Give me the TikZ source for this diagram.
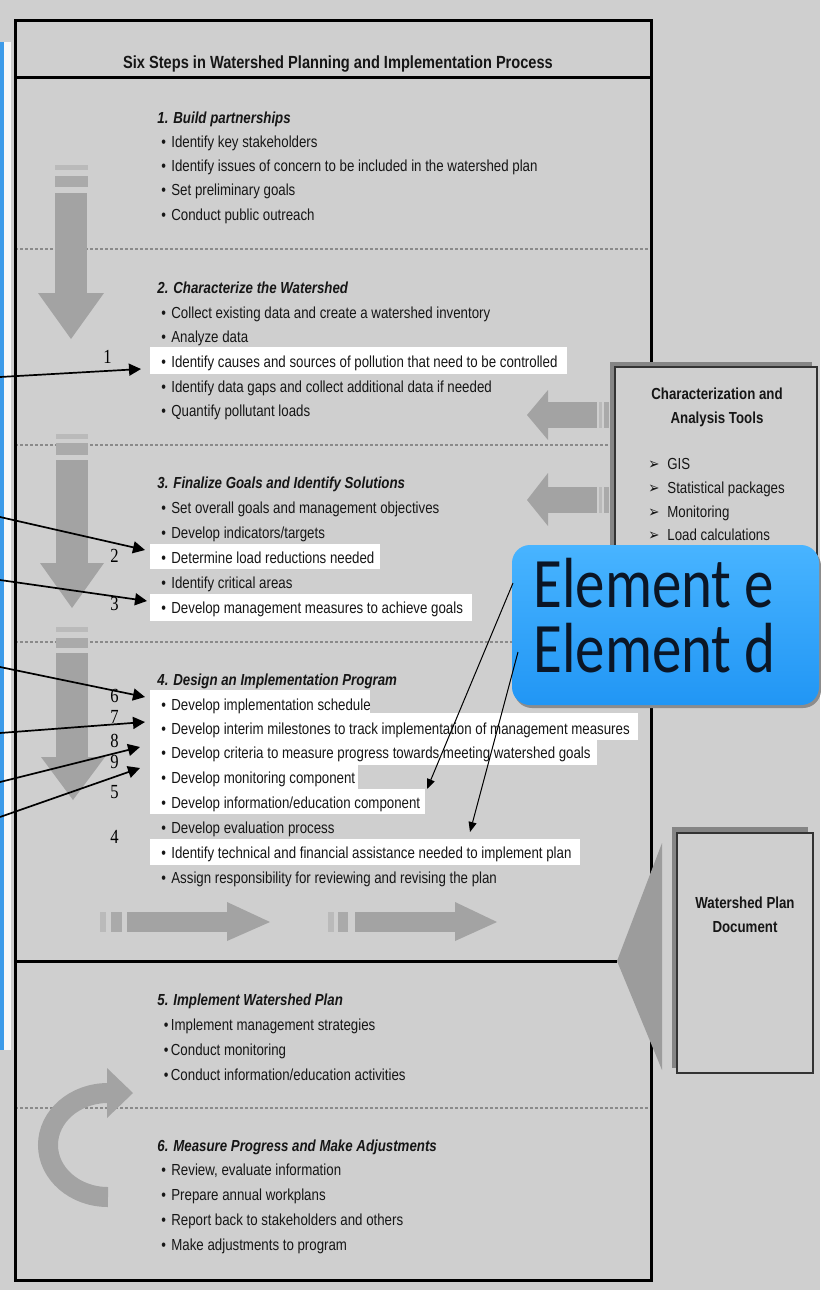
\documentclass[tikz,border=0pt]{standalone}
\usepackage{fontspec}
\setmainfont{Liberation Sans}[FakeStretch=0.83]
\newfontfamily\numfont{Liberation Serif}[FakeStretch=0.83]
\newfontfamily\elfont{Carlito}[FakeStretch=0.83]
\newfontfamily\dvfont{DejaVu Sans}[FakeStretch=0.83]
\usetikzlibrary{arrows.meta}
\definecolor{bg}{HTML}{CFCFCF}
\definecolor{agrey}{HTML}{A3A3A3}
\definecolor{barA}{HTML}{BABABA}
\definecolor{barB}{HTML}{AAAAAA}
\definecolor{dotc}{HTML}{8A8A8A}
\definecolor{shad}{HTML}{858585}
\definecolor{wedgec}{HTML}{9C9C9C}
\definecolor{txtc}{HTML}{161616}
\definecolor{bluetop}{HTML}{48B4FF}
\definecolor{bluebot}{HTML}{2196F5}
\definecolor{leftblue}{HTML}{3D9BE9}
\definecolor{eltxt}{HTML}{0B1626}
\newcommand\bul{\makebox[5pt][l]{•}}
\newcommand\bulb{\makebox[3.5pt][l]{•}}
\newcommand\arr{\makebox[9.5pt][l]{\dvfont\char"27A2}}
\tikzset{
  txt/.style={anchor=base west, inner sep=0pt, font=\fontsize{8pt}{10pt}\selectfont, text=txtc},
  hd/.style={txt, font=\fontsize{8pt}{10pt}\selectfont\bfseries\itshape},
  bx/.style={anchor=base, inner sep=0pt, font=\fontsize{8pt}{10pt}\selectfont\bfseries, text=txtc},
  num/.style={anchor=base west, inner sep=0pt, font=\numfont\fontsize{10pt}{12pt}\selectfont, text=black},
  blk/.style={-{Triangle[length=6pt,width=6pt]}, line width=0.85pt, black},
  thin/.style={-{Triangle[length=5pt,width=4pt]}, line width=0.5pt, black},
  hl/.style={fill=white, draw=none},
  dotline/.style={dotc, line width=0.6pt, dash pattern=on 1.5pt off 1pt},
  thick box/.style={line width=1.5pt, black},
  eltext/.style={anchor=base west, inner sep=0pt, font=\elfont\fontsize{35.5pt}{36pt}\selectfont, text=eltxt}
}
\begin{document}
\begin{tikzpicture}[x=0.5pt,y=-0.5pt]
\useasboundingbox (0,0) rectangle (820,1290);
\fill[bg] (0,0) rectangle (820,1290);
% left blue edge of neighbouring box
\fill[leftblue] (0,42) rectangle (4,1050);
\fill[white!85!bg] (4,42) rectangle (11,1050);

% white highlights
\fill[hl] (150,347) rectangle (567,374);
\fill[hl] (150,544) rectangle (380,569);
\fill[hl] (150,594) rectangle (472,621);
\fill[hl] (150,690) rectangle (370,714);
\fill[hl] (150,713) rectangle (638,740);
\fill[hl] (150,739) rectangle (597,765);
\fill[hl] (150,764) rectangle (358,790);
\fill[hl] (150,789) rectangle (425,814);
\fill[hl] (150,839) rectangle (580,865);

% dotted separators
\draw[dotline] (15,249) -- (651,249);
\draw[dotline] (15,445) -- (651,445);
\draw[dotline] (15,642) -- (651,642);
\draw[dotline] (15,1108) -- (651,1108);

% main frame
\draw[thick box] (15,20) rectangle (651,1280);
\draw[thick box] (15,77) -- (651,77);
\coordinate (wapex) at (617,961);
\draw[thick box] (15,961) -- (wapex);

% down arrows
\fill[barA] (55,165) rectangle (88,170);
\fill[barB] (55,176) rectangle (88,187);
\fill[agrey] (55,193) rectangle (87,294);
\fill[agrey] (38,293) -- (104,293) -- (71,339) -- cycle;

\fill[barA] (56,434) rectangle (88,439);
\fill[barB] (56,443) rectangle (88,455);
\fill[agrey] (56,460) rectangle (88,564);
\fill[agrey] (40,563) -- (104,563) -- (72,608) -- cycle;

\fill[barA] (56,627) rectangle (88,632);
\fill[barB] (56,638) rectangle (88,648);
\fill[agrey] (56,653) rectangle (88,758);
\fill[agrey] (41,757) -- (105,757) -- (73,800) -- cycle;

% left arrows from tools box
\fill[agrey] (547,402) rectangle (597,428);
\fill[barA] (599,402) rectangle (602,428);
\fill[barB] (604,402) rectangle (609,428);
\fill[agrey] (548,390) -- (527,415) -- (548,440) -- cycle;

\fill[agrey] (547,487) rectangle (597,513);
\fill[barA] (599,487) rectangle (602,513);
\fill[barB] (604,487) rectangle (609,513);
\fill[agrey] (548,473) -- (527,500) -- (548,526) -- cycle;

% right arrows
\fill[barA] (100,912) rectangle (106,932);
\fill[barB] (111,912) rectangle (122,932);
\fill[agrey] (127,912) rectangle (228,932);
\fill[agrey] (227,902) -- (270,922) -- (227,941) -- cycle;

\fill[barA] (328,912) rectangle (334,932);
\fill[barB] (338,912) rectangle (348,932);
\fill[agrey] (355,912) rectangle (456,932);
\fill[agrey] (455,902) -- (497,922) -- (455,941) -- cycle;

% curved arrow
\draw[agrey, line width=10pt] (108,1197) arc[start angle=90, end angle=270, x radius=60, y radius=52];
\fill[agrey] (107,1068) -- (133,1093) -- (107,1118) -- cycle;

% title
\node[anchor=base, inner sep=0pt, font=\fontsize{8.8pt}{10pt}\selectfont\bfseries, text=txtc] (title) at (338,68) {Six Steps in Watershed Planning and Implementation Process};

% step 1
\node[hd] (s1h) at (157,123) {1. Build partnerships};
\node[txt] (s1a) at (161,147) {\bul Identify key stakeholders};
\node[txt] (s1b) at (161,171) {\bul Identify issues of concern to be included in the watershed plan};
\node[txt] (s1c) at (161,195.5) {\bul Set preliminary goals};
\node[txt] (s1d) at (161,220) {\bul Conduct public outreach};

% step 2
\node[hd] (s2h) at (157,293) {2. Characterize the Watershed};
\node[txt] (s2a) at (161,318) {\bul Collect existing data and create a watershed inventory};
\node[txt] (s2b) at (161,342.5) {\bul Analyze data};
\node[txt] (s2c) at (161,367) {\bul Identify causes and sources of pollution that need to be controlled};
\node[txt] (s2d) at (161,392) {\bul Identify data gaps and collect additional data if needed};
\node[txt] (s2e) at (161,416.5) {\bul Quantify pollutant loads};

% step 3
\node[hd] (s3h) at (157,488) {3. Finalize Goals and Identify Solutions};
\node[txt] (s3a) at (161,513) {\bul Set overall goals and management objectives};
\node[txt] (s3b) at (161,538) {\bul Develop indicators/targets};
\node[txt] (s3c) at (161,563) {\bul Determine load reductions needed};
\node[txt] (s3d) at (161,588) {\bul Identify critical areas};
\node[txt] (s3e) at (161,613) {\bul Develop management measures to achieve goals};

% step 4
\node[hd] (s4h) at (157,685) {4. Design an Implementation Program};
\node[txt] (s4a) at (161,710) {\bul Develop implementation schedule};
\node[txt] (s4b) at (161,734) {\bul Develop interim milestones to track implementation of management measures};
\node[txt] (s4c) at (161,758.5) {\bul Develop criteria to measure progress towards meeting watershed goals};
\node[txt] (s4d) at (161,783) {\bul Develop monitoring component};
\node[txt] (s4e) at (161,808) {\bul Develop information/education component};
\node[txt] (s4f) at (161,833) {\bul Develop evaluation process};
\node[txt] (s4g) at (161,858) {\bul Identify technical and financial assistance needed to implement plan};
\node[txt] (s4i) at (161,883) {\bul Assign responsibility for reviewing and revising the plan};

% step 5
\node[hd] (s5h) at (157,1005) {5. Implement Watershed Plan};
\node[txt] (s5a) at (163.5,1030) {\bulb Implement management strategies};
\node[txt] (s5b) at (163.5,1055) {\bulb Conduct monitoring};
\node[txt] (s5c) at (163.5,1080) {\bulb Conduct information/education activities};

% step 6
\node[hd] (s6h) at (157,1151) {6. Measure Progress and Make Adjustments};
\node[txt] (s6a) at (161,1175.5) {\bul Review, evaluate information};
\node[txt] (s6b) at (161,1200) {\bul Prepare annual workplans};
\node[txt] (s6c) at (161,1225) {\bul Report back to stakeholders and others};
\node[txt] (s6d) at (161,1250) {\bul Make adjustments to program};

% characterization tools box
\fill[shad] (610,362) rectangle (812,690);
\filldraw[fill=bg, draw=black!80, line width=0.8pt] (615,367) rectangle (817,695);
\node[bx] (ct1) at (717,399) {Characterization and};
\node[bx] (ct2) at (717,423) {Analysis Tools};
\node[txt] (ct3) at (648,469) {\arr GIS};
\node[txt] (ct4) at (648,493) {\arr Statistical packages};
\node[txt] (ct5) at (648,517) {\arr Monitoring};
\node[txt] (ct6) at (648,540) {\arr Load calculations};

% wedge and plan document
\fill[wedgec] (wapex) -- (662,843) -- (662,1070) -- cycle;
\fill[shad] (672,827) rectangle (808,1068);
\filldraw[fill=bg, draw=black!80, line width=0.7pt] (677,833) rectangle (813,1073);
\node[bx] (wp1) at (745,908) {Watershed Plan};
\node[bx] (wp2) at (745,932) {Document};

% numbers
\node[num] (n1) at (103,363) {1};
\node[num] (n2) at (110,562) {2};
\node[num] (n3) at (110,610) {3};
\node[num] (n6) at (110,702) {6};
\node[num] (n7) at (110,723) {7};
\node[num] (n8) at (110,747) {8};
\node[num] (n9) at (110,768) {9};
\node[num] (n5) at (110,798) {5};
\node[num] (n4) at (110,843) {4};

% black arrows from the left
\coordinate (a1s) at (0,377);  \coordinate (a1e) at (141,369);
\coordinate (a2s) at (0,517);  \coordinate (a2e) at (145,550);
\coordinate (a3s) at (0,580);  \coordinate (a3e) at (147,601);
\coordinate (a6s) at (0,667);  \coordinate (a6e) at (145,697);
\coordinate (a7s) at (0,733);  \coordinate (a7e) at (145,722);
\coordinate (a8s) at (0,782);  \coordinate (a8e) at (140,747);
\coordinate (a9s) at (0,817);  \coordinate (a9e) at (140,768);
\draw[blk] (a1s) -- (a1e);
\draw[blk] (a2s) -- (a2e);
\draw[blk] (a3s) -- (a3e);
\draw[blk] (a6s) -- (a6e);
\draw[blk] (a7s) -- (a7e);
\draw[blk] (a8s) -- (a8e);
\draw[blk] (a9s) -- (a9e);

% callout
\fill[black!45, rounded corners=9pt] (514,548) rectangle (821,708);
\shade[top color=bluetop, bottom color=bluebot, rounded corners=9pt] (512,545) rectangle (819,705);
\node[eltext] (ele) at (533,607) {Element e};
\node[eltext] (eld) at (533,672) {Element d};
\coordinate (c1s) at (513,583); \coordinate (c1e) at (427,789);
\coordinate (c2s) at (518,652); \coordinate (c2e) at (470,832);
\draw[thin] (c1s) -- (c1e);
\draw[thin] (c2s) -- (c2e);
\end{tikzpicture}
\end{document}
